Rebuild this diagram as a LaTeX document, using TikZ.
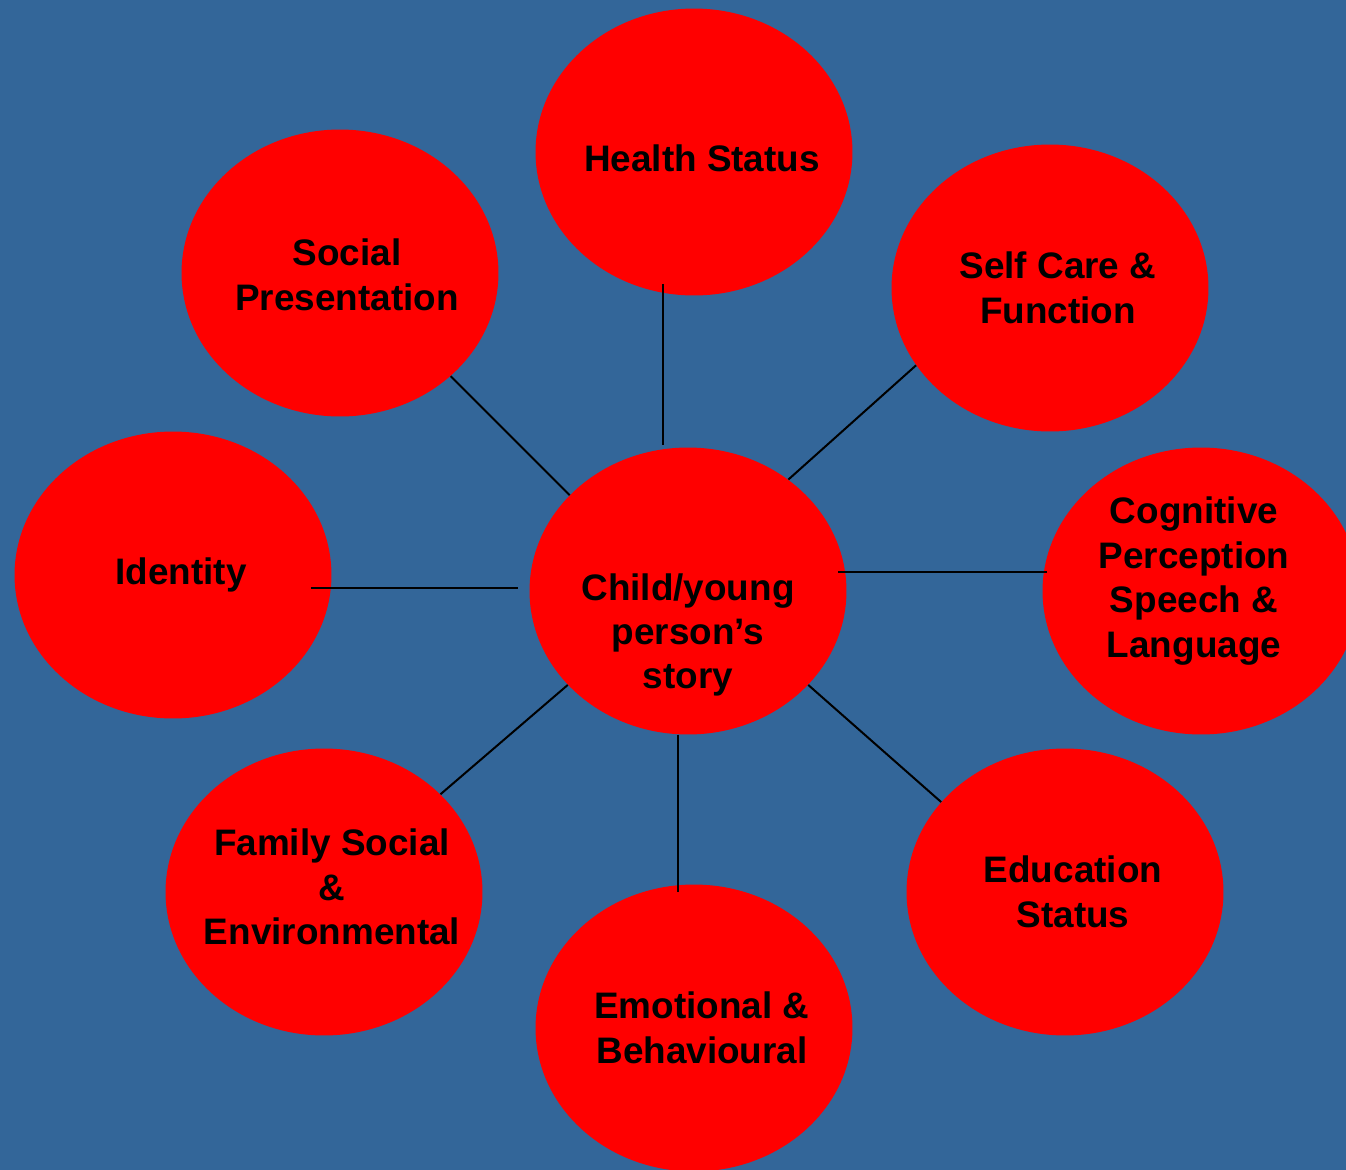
\documentclass[tikz,border=0pt]{standalone}
\usepackage{fontspec}
\setmainfont{Liberation Sans}
\usetikzlibrary{calc,shapes.geometric}
\definecolor{bgblue}{HTML}{336699}
\tikzset{
	bubble/.style={ellipse, fill=red, minimum width=6.34cm, minimum height=5.74cm, inner sep=0pt},
	tag/.style={align=center, inner sep=0pt, font=\bfseries\fontsize{21}{25.3}\selectfont},
	spoke/.style={line width=0.04cm, color=black},
}

\begin{document}
\begin{tikzpicture}[x=0.02cm, y=-0.02cm]
		%%%%% START %%%%%
		
		\useasboundingbox (0, 0) rectangle (1346, 1170);
		\clip (0, 0) rectangle (1346, 1170);
		\fill[bgblue] (0, 0) rectangle (1346, 1170);
		
		\node[bubble, label={[tag, yshift=-0.88cm]center:Child/young\\person’s\\story}] (story) at (688, 591) {};
		
		\node[bubble, label={[tag, xshift=0.16cm, yshift=-0.12cm]center:Health Status}] (health) at (694, 152) {};
		\node[bubble, label={[tag, xshift=0.14cm, yshift=-0.04cm]center:Social\\Presentation}] (social) at (340, 273) {};
		\node[bubble, label={[tag, xshift=0.16cm]center:Self Care \&\\Function}] (selfcare) at (1050, 288) {};
		\node[bubble, label={[tag, xshift=0.16cm]center:Identity}] (identity) at (173, 575) {};
		\node[bubble, label={[tag, xshift=-0.14cm, yshift=0.2cm]center:Cognitive\\Perception\\Speech \&\\Language}] (cognitive) at (1201, 591) {};
		\node[bubble, label={[tag, xshift=0.16cm, yshift=0.1cm]center:Family Social\\\&\\Environmental}] (family) at (324, 892) {};
		\node[bubble, label={[tag, xshift=0.16cm]center:Emotional \&\\Behavioural}] (emotional) at (694, 1028) {};
		\node[bubble, label={[tag, xshift=0.16cm]center:Education\\Status}] (education) at (1065, 892) {};
		
		\draw[spoke, shorten <=-0.18cm, shorten >=0.08cm] (story.100 |- health.257) -- (story.100);
		\draw[spoke] (social.317) -- (story.141);
		\draw[spoke] (selfcare.210) -- (story.48);
		\draw[spoke, shorten <=-0.42cm, shorten >=0.22cm] (identity.east |- story.179) -- (story.179);
		\draw[spoke, shorten <=-0.14cm, shorten >=-0.06cm] (story.7) -- (cognitive.173);
		\draw[spoke] (story.322) -- (education.144);
		\draw[spoke, shorten >=-0.14cm] (story.266) -- (story.266 |- emotional.96);
		\draw[spoke] (story.218) -- (family.40);
		
		%%%%% END %%%%%
	\end{tikzpicture}
\end{document}
